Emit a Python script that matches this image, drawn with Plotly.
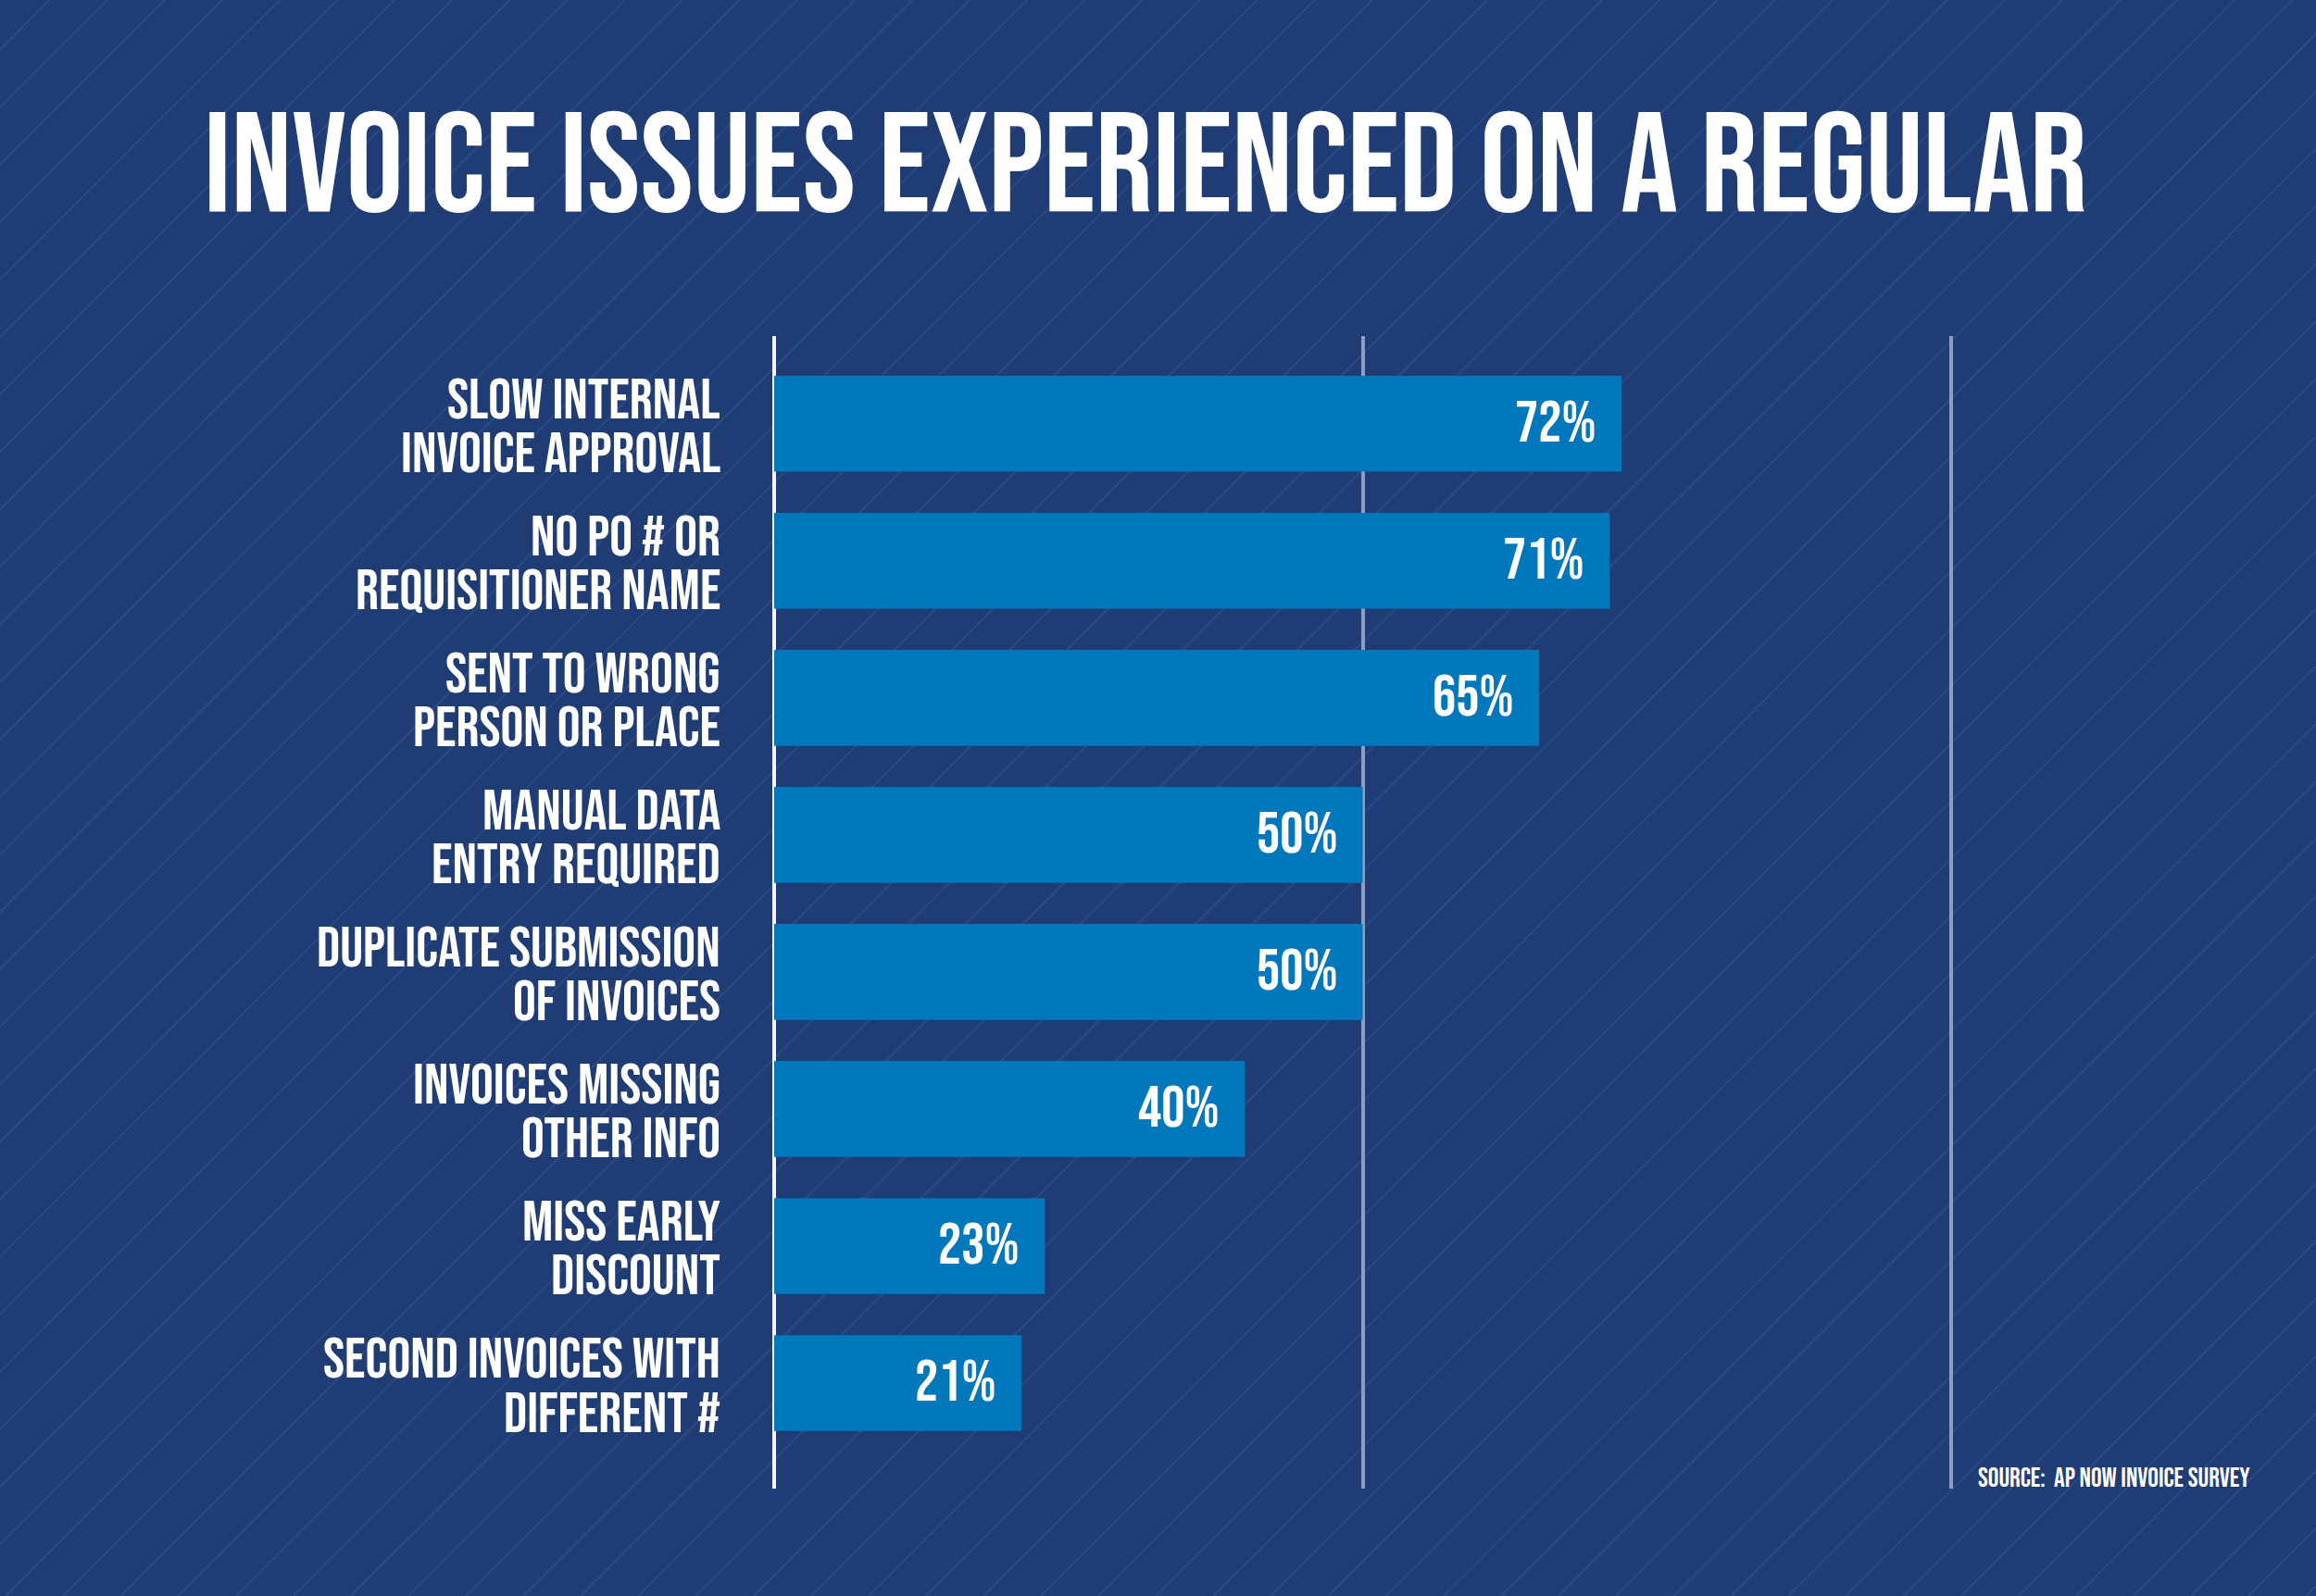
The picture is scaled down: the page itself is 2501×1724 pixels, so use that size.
import plotly.graph_objects as go

# ---------------- data ----------------
label_line1 = [
    "SLOW INTERNAL",
    "NO PO # OR",
    "SENT TO WRONG",
    "MANUAL DATA",
    "DUPLICATE SUBMISSION",
    "INVOICES MISSING",
    "MISS EARLY",
    "SECOND INVOICES WITH",
]
label_line2 = [
    "INVOICE APPROVAL",
    "REQUISITIONER NAME",
    "PERSON OR PLACE",
    "ENTRY REQUIRED",
    "OF INVOICES",
    "OTHER INFO",
    "DISCOUNT",
    "DIFFERENT #",
]
categories = [a + " " + b for a, b in zip(label_line1, label_line2)]
values = [72, 71, 65, 50, 50, 40, 23, 21]
value_labels = [f"{v}%" for v in values]
title_text = "INVOICE ISSUES EXPERIENCED ON A REGULAR"
source_text = "SOURCE:&nbsp;&nbsp;AP NOW INVOICE SURVEY"

# ---------------- style ----------------
W, H = 2501, 1724
BG = "#203C74"
STRIPE = "#2D4A84"
BAR = "#0078BB"
GRID = "#8C9DC4"
FONT = "Bebas Neue, Oswald, Archivo Narrow, sans-serif"


def px_x(X):
    return X / W


def px_y(Y):
    return 1 - Y / H


fig = go.Figure()
fig.add_trace(go.Bar(
    x=values, y=categories, orientation="h",
    marker=dict(color=BAR, line=dict(width=0)),
    width=0.7, hoverinfo="skip",
))

annotations = []
for v, c, lab in zip(values, categories, value_labels):
    annotations.append(dict(
        x=v, y=c, xref="x", yref="y", text=lab, showarrow=False,
        xanchor="right", yanchor="middle", xshift=-25,
        font=dict(family=FONT, size=63, color="white"),
    ))
for c, l1, l2 in zip(categories, label_line1, label_line2):
    annotations.append(dict(
        x=px_x(780), y=c, xref="paper", yref="y", text=l1, showarrow=False,
        xanchor="right", yanchor="middle", yshift=25, height=58,
        font=dict(family=FONT, size=62, color="white"),
    ))
    annotations.append(dict(
        x=px_x(780), y=c, xref="paper", yref="y", text=l2, showarrow=False,
        xanchor="right", yanchor="middle", yshift=-33.5, height=58,
        font=dict(family=FONT, size=62, color="white"),
    ))
annotations.append(dict(
    x=px_x(218), y=px_y(181), xref="paper", yref="paper", text=title_text,
    showarrow=False, xanchor="left", yanchor="middle",
    font=dict(family=FONT, size=154, color="white"),
))
annotations.append(dict(
    x=px_x(2134), y=px_y(1597), xref="paper", yref="paper", text=source_text,
    showarrow=False, xanchor="left", yanchor="middle",
    font=dict(family=FONT, size=29, color="white"),
))

# diagonal background stripes (x + y = const in pixels)
shapes = []
spacing = 62.1
c = 53.5
while c < W + H + spacing:
    shapes.append(dict(
        type="line", xref="paper", yref="paper", layer="below",
        x0=px_x(c), y0=px_y(0), x1=px_x(c - H), y1=px_y(H),
        line=dict(color=STRIPE, width=2),
    ))
    c += spacing

x0_px, x_scale = 836, 12.71
fig.update_layout(
    width=W, height=H,
    margin=dict(l=0, r=0, t=0, b=0),
    paper_bgcolor=BG, plot_bgcolor="rgba(0,0,0,0)",
    showlegend=False,
    annotations=annotations, shapes=shapes,
    xaxis=dict(
        domain=[px_x(x0_px - 0.5 * x_scale), px_x(x0_px + 102 * x_scale)],
        range=[-0.5, 102], showticklabels=False, ticks="",
        showgrid=True, tick0=0, dtick=50, gridcolor=GRID, gridwidth=4,
        zeroline=True, zerolinecolor="#F2F3F7", zerolinewidth=4,
        showline=False, fixedrange=True,
    ),
    yaxis=dict(
        type="category", domain=[px_y(1608), px_y(363)],
        range=[7.77, -0.64], showgrid=False, zeroline=False, showline=False,
        ticks="", showticklabels=False, automargin=False, fixedrange=True,
    ),
)

fig.write_html(
    "out.html",
    config={"displayModeBar": False},
    post_script="document.body.style.margin='0px';",
)
